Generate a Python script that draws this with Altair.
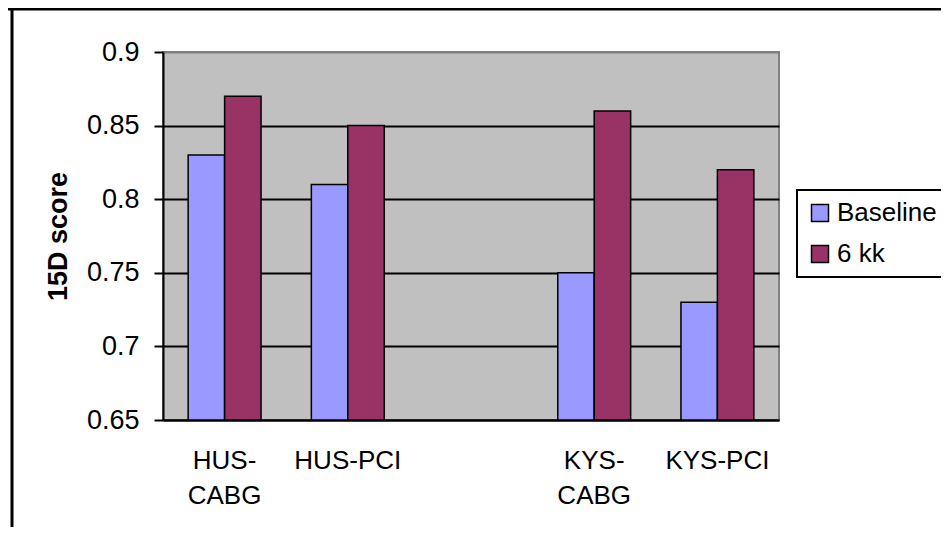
import altair as alt
import pandas as pd

categories = ["HUS-CABG", "HUS-PCI", "", "KYS-CABG", "KYS-PCI"]
groups = ["HUS-CABG", "HUS-PCI", "KYS-CABG", "KYS-PCI"]
baseline = [0.83, 0.81, 0.75, 0.73]
six_kk = [0.87, 0.85, 0.86, 0.82]
series = ["Baseline", "6 kk"]
colors = ["#9999FF", "#993366"]
y_ticks = [0.65, 0.7, 0.75, 0.8, 0.85, 0.9]

rows = []
for g, b, s in zip(groups, baseline, six_kk):
    rows.append({"cat": g, "series": series[0], "value": b})
    rows.append({"cat": g, "series": series[1], "value": s})
df = pd.DataFrame(rows)

W, H = 616, 368
PL, PT, PR, PB = 155, 44, 162, 107
FONT = "Liberation Sans"

bars = alt.Chart(df).mark_bar(stroke="black", strokeWidth=1.5, opacity=1).encode(
    x=alt.X(
        "cat:N",
        sort=categories,
        scale=alt.Scale(domain=categories, paddingInner=0, paddingOuter=0),
        axis=alt.Axis(
            title=None, ticks=False, labelAngle=0, labelFontSize=26, labelFont=FONT,
            labelColor="black", labelPadding=27, labelLineHeight=35,
            domainColor="black", domainWidth=2, grid=False,
            labelExpr="indexof(datum.label,'CABG')>0 ? [replace(datum.label,'CABG',''),'CABG'] : datum.label",
        ),
    ),
    xOffset=alt.XOffset("series:N", sort=series,
                        scale=alt.Scale(domain=series, paddingInner=0, paddingOuter=0.69)),
    y=alt.Y(
        "value:Q",
        scale=alt.Scale(domain=[0.65, 0.9], zero=False, nice=False, clamp=True),
        axis=alt.Axis(
            values=y_ticks, format=".2~f", title="15D score",
            titleFontSize=27, titleFont=FONT, titleFontWeight="bold", titleColor="black",
            titlePadding=14,
            labelFontSize=27, labelFont=FONT, labelColor="black", labelPadding=15,
            tickSize=9, tickColor="black", tickWidth=2,
            domainColor="black", domainWidth=2,
            grid=True, gridWidth=2,
            gridColor={"condition": {"test": "datum.value >= 0.895", "value": "#808080"}, "value": "black"},
        ),
    ),
    color=alt.Color(
        "series:N",
        sort=series,
        scale=alt.Scale(domain=series, range=colors),
        legend=alt.Legend(
            title=None, orient="none", legendX=634, legendY=138,
            strokeColor="black", fillColor="white", padding=10,
            symbolType="square", symbolSize=289, symbolStrokeColor="black",
            symbolStrokeWidth=1.5, symbolOpacity=1,
            labelFontSize=26, labelFont=FONT, labelColor="black", labelOffset=4,
        ),
    ),
)

frame = alt.Chart(alt.Data(values=[{"a": 1}])).mark_rule(color="black", strokeWidth=3)
left_edge = frame.encode(x=alt.value(-151), y=alt.value(-PT), y2=alt.value(H + PB))
top_edge = frame.encode(x=alt.value(-PL), x2=alt.value(W + PR), y=alt.value(-43))

chart = alt.layer(bars, left_edge, top_edge).properties(
    width=W, height=H,
    autosize=alt.AutoSizeParams(type="none"),
    padding={"left": PL, "top": PT, "right": PR, "bottom": PB},
    background="white",
).configure_view(
    fill="#C0C0C0", stroke="#808080", strokeWidth=2
).configure_legend(strokeWidth=2, rowPadding=15)

chart.save("out.html", embed_options={"renderer": "svg", "actions": False})
